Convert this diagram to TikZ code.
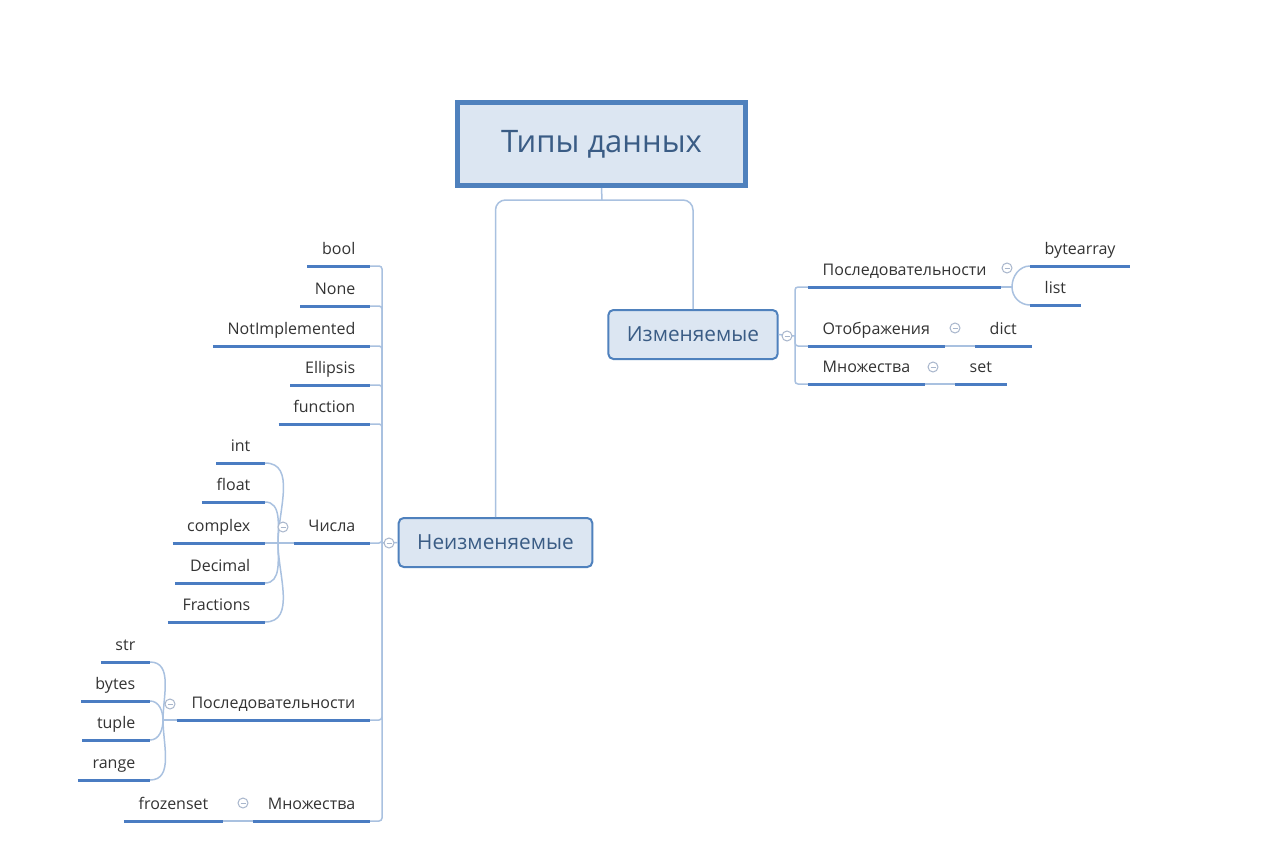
\documentclass[tikz,border=0pt]{standalone}
\usepackage{fontspec}
\setmainfont{Open Sans}
\usepackage{xcolor}
\usepackage{tikz}
\usetikzlibrary{positioning}
\definecolor{boxfill}{HTML}{DCE6F2}
\definecolor{boxline}{HTML}{4F81BD}
\definecolor{boxtext}{HTML}{3A5C85}
\definecolor{leaftext}{HTML}{333333}
\definecolor{ulcol}{HTML}{4A7CC2}
\definecolor{linkcol}{HTML}{A9C1E0}
\definecolor{foldcol}{HTML}{A8B6CC}
\tikzstyle{root} = [rectangle, draw=boxline, line width=5pt, fill=boxfill, minimum width=288pt, minimum height=83pt, text=boxtext, font=\fontsize{31}{36}\selectfont]
\tikzstyle{branch} = [rectangle, rounded corners=5pt, draw=boxline, line width=2pt, fill=boxfill, inner xsep=18.5pt, minimum height=49pt, text=boxtext, font=\fontsize{20.8}{25}\selectfont]
\tikzstyle{leaf} = [inner xsep=14.5pt, inner ysep=7pt, text height=12pt, text depth=4pt, text=leaftext, font=\fontsize{16}{19}\selectfont]
\tikzstyle{lleaf} = [leaf, anchor=south east]
\tikzstyle{rleaf} = [leaf, anchor=south west]
\tikzstyle{uline} = [draw=ulcol, line width=3pt]
\tikzstyle{link} = [draw=linkcol, line width=1.5pt]
\tikzstyle{fold} = [circle, draw=foldcol, fill=white, line width=1pt, inner sep=0pt, minimum size=10pt, text=foldcol]
\begin{document}
\begin{tikzpicture}[x=1pt,y=-1pt]
\useasboundingbox[fill=white] (0,0) rectangle (1280,848);
\node (root) [root] at (601.5,144) {Типы данных};
\node (mut) [branch] at (693,334.5) {Изменяемые};
\node (imm) [branch] at (495.5,542.5) {Неизменяемые};

% left side
\node (bool) [lleaf] at (370,266) {bool};
\node (none) [lleaf] at (370,306) {None};
\node (notimpl) [lleaf] at (370,346) {NotImplemented};
\node (ellipsis) [lleaf] at (370,385) {Ellipsis};
\node (func) [lleaf] at (370,424) {function};
\node (nums) [lleaf] at (370,543) {Числа};
\node (seql) [lleaf] at (370,720) {Последовательности};
\node (setl) [lleaf] at (370,821) {Множества};
\node (int) [lleaf] at (265,463) {int};
\node (float) [lleaf] at (265,502) {float};
\node (complex) [lleaf] at (265,543) {complex};
\node (decimal) [lleaf] at (265,583) {Decimal};
\node (fractions) [lleaf] at (265,622) {Fractions};
\node (str) [lleaf] at (150,662) {str};
\node (bytes) [lleaf] at (150,701) {bytes};
\node (tuple) [lleaf] at (150,740) {tuple};
\node (range) [lleaf] at (150,780) {range};
\node (frozen) [lleaf] at (223,821) {frozenset};

% right side
\node (seqr) [rleaf] at (808,287) {Последовательности};
\node (mapr) [rleaf] at (808,346) {Отображения};
\node (setr) [rleaf] at (808,384) {Множества};
\node (bytearray) [rleaf] at (1030,266) {bytearray};
\node (list) [rleaf] at (1030,305) {list};
\node (dict) [rleaf] at (975,346) {dict};
\node (setitem) [rleaf] at (955,384) {set};

\coordinate (split) at (602,200);
\coordinate (lhub) at (382,543);
\coordinate (rhub) at (795,336);
\coordinate (njoin) at (278,543);
\coordinate (sjoin) at (163,720);
\coordinate (rjoin) at (1012,287);

\draw [link] (root.south) -- (split);
\draw [link, rounded corners=10pt] (imm.north) |- (split) -| (mut.north);
\draw [link] (imm.west) -- (lhub);
\foreach \n in {bool,none,notimpl,ellipsis,func,nums,seql,setl}
  \draw [link, rounded corners=3pt] (lhub) |- (\n.south east);
\draw [link] (mut.east) -- (rhub);
\foreach \n in {seqr,mapr,setr}
  \draw [link, rounded corners=3pt] (rhub) |- (\n.south west);

\draw [link] (nums.south west) -- (njoin) -- (complex.south east);
\draw [link] (njoin) to[out=90,in=0] (int.south east);
\draw [link] (njoin) to[out=90,in=0] (float.south east);
\draw [link] (njoin) to[out=-90,in=0] (decimal.south east);
\draw [link] (njoin) to[out=-90,in=0] (fractions.south east);
\draw [link] (seql.south west) -- (sjoin);
\draw [link] (sjoin) to[out=90,in=0] (str.south east);
\draw [link] (sjoin) to[out=90,in=0] (bytes.south east);
\draw [link] (sjoin) to[out=-90,in=0] (tuple.south east);
\draw [link] (sjoin) to[out=-90,in=0] (range.south east);
\draw [link] (setl.south west) -- (frozen.south east);
\draw [link] (seqr.south east) -- (rjoin);
\draw [link] (rjoin) to[out=90,in=180] (bytearray.south west);
\draw [link] (rjoin) to[out=-90,in=180] (list.south west);
\draw [link] (mapr.south east) -- (dict.south west);
\draw [link] (setr.south east) -- (setitem.south west);

\foreach \n in {bool,none,notimpl,ellipsis,func,nums,seql,setl,int,float,complex,decimal,fractions,str,bytes,tuple,range,frozen,seqr,mapr,setr,bytearray,list,dict,setitem}
  \draw [uline] (\n.south west) -- (\n.south east);

\node (fimm) [fold] at (389,543) {\rule{5pt}{0.8pt}};
\node (fnums) [fold] at (283,527) {\rule{5pt}{0.8pt}};
\node (fseql) [fold] at (170,704) {\rule{5pt}{0.8pt}};
\node (fsetl) [fold] at (243,803) {\rule{5pt}{0.8pt}};
\node (fmut) [fold] at (787,336) {\rule{5pt}{0.8pt}};
\node (fseqr) [fold] at (1007,268) {\rule{5pt}{0.8pt}};
\node (fmapr) [fold] at (955,328) {\rule{5pt}{0.8pt}};
\node (fsetr) [fold] at (933,367) {\rule{5pt}{0.8pt}};
\end{tikzpicture}
\end{document}
